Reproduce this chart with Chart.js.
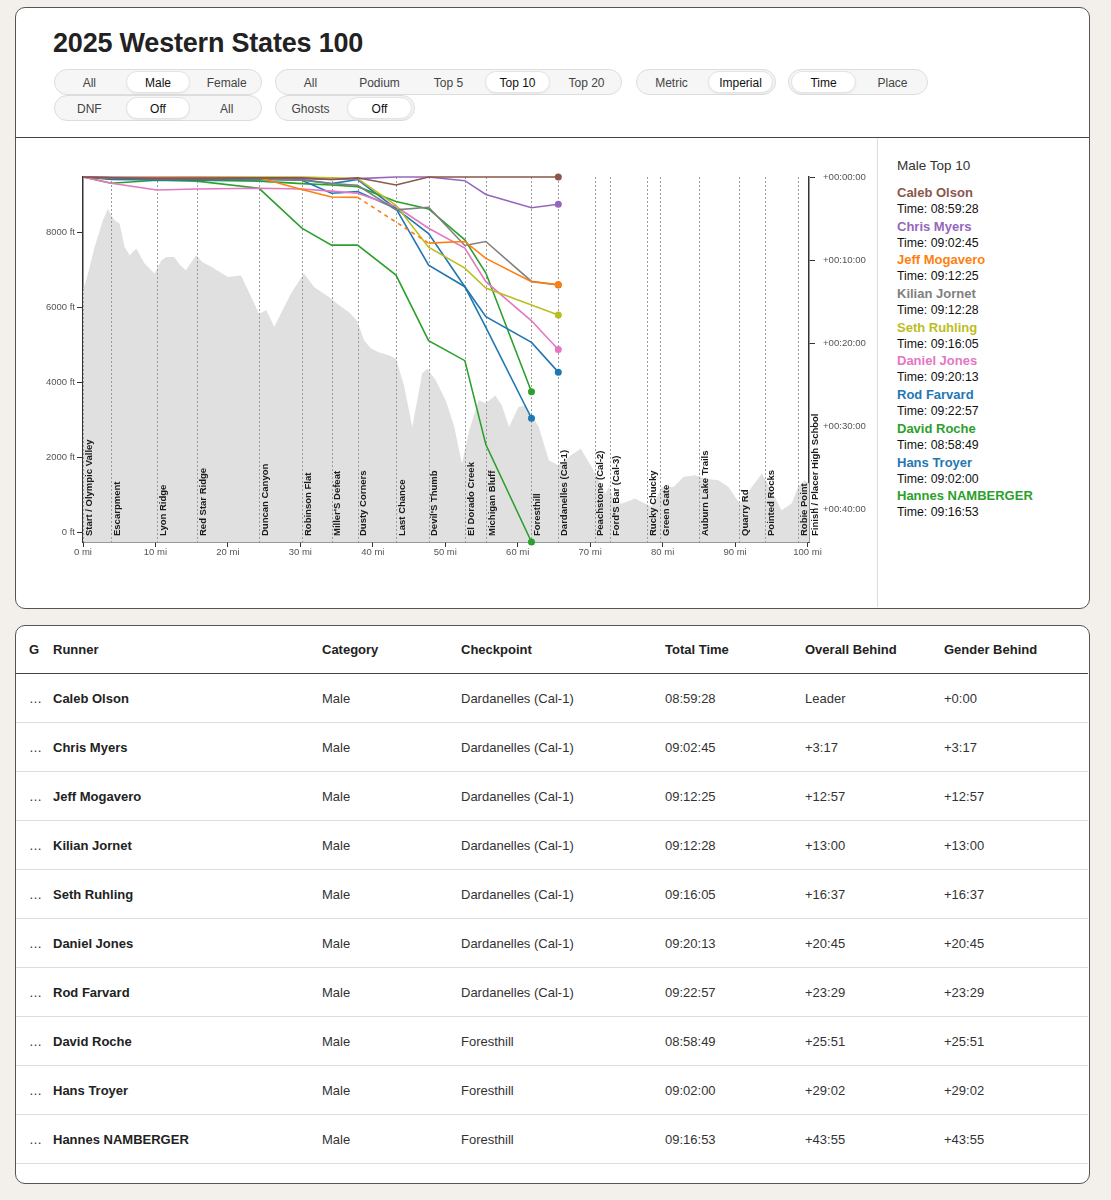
<!DOCTYPE html>
<html>
<head>
<meta charset="utf-8">
<script src="https://cdn.jsdelivr.net/npm/chart.js@4.4.1/dist/chart.umd.min.js"></script>
<style>
  body{margin:0;background:#f3f0eb;font-family:"Liberation Sans",Arial,sans-serif;color:#222;width:1111px;height:1200px;position:relative;overflow:hidden}
  .card{position:absolute;background:#fff;border:1px solid #555;border-radius:10px;box-sizing:border-box}
  h1{position:absolute;left:53px;top:28px;margin:0;font-size:27px;font-weight:bold;color:#222;letter-spacing:-0.2px}
  .grp{position:absolute;height:26px;border:1px solid #ddd;border-radius:14px;background:#f6f6f6;display:flex;box-sizing:border-box}
  .grp span{flex:1;text-align:center;font-size:12px;line-height:22px;color:#444;margin:1px 2px;border-radius:12px;border:1px solid transparent}
  .grp span.on{background:#fff;border-color:#e4e4e4;color:#111;box-shadow:0 1px 2px rgba(0,0,0,.06)}
  #hline{position:absolute;left:15px;top:137px;width:1074px;height:1px;background:#444}
  #vline{position:absolute;left:877px;top:138px;width:1px;height:469px;background:#ddd}
  #wrap{position:absolute;left:16px;top:138px;width:861px;height:470px}
  #legend{position:absolute;left:897px;top:158px;width:185px}
  #legend .ttl{font-size:13.5px;color:#333;margin-bottom:12px}
  #legend .nm{font-size:13px;font-weight:bold;line-height:16px}
  #legend .tm{font-size:12.3px;color:#111;line-height:16px;margin-bottom:1.7px}
  table{position:absolute;left:16px;top:626px;width:1072px;border-collapse:collapse;font-size:13px;table-layout:fixed}
  th{text-align:left;font-weight:bold;height:47px;border-bottom:1px solid #444;padding:0;color:#222}
  td{height:48px;border-bottom:1px solid #ddd;padding:0;color:#333}
  td.rn{font-weight:bold;color:#222}
  th:first-child,td:first-child{padding-left:13px}
</style>
</head>
<body>
<div class="card" style="left:15px;top:7px;width:1075px;height:602px"></div>
<div class="card" style="left:15px;top:625px;width:1075px;height:559px"></div>
<h1>2025 Western States 100</h1>
<div class="grp" style="left:54px;top:69px;width:208px"><span>All</span><span class="on">Male</span><span>Female</span></div>
<div class="grp" style="left:275px;top:69px;width:347px"><span>All</span><span>Podium</span><span>Top 5</span><span class="on">Top 10</span><span>Top 20</span></div>
<div class="grp" style="left:636px;top:69px;width:140px"><span>Metric</span><span class="on">Imperial</span></div>
<div class="grp" style="left:788px;top:69px;width:140px"><span class="on">Time</span><span>Place</span></div>
<div class="grp" style="left:54px;top:95px;width:208px"><span>DNF</span><span class="on">Off</span><span>All</span></div>
<div class="grp" style="left:275px;top:95px;width:140px"><span>Ghosts</span><span class="on">Off</span></div>
<div id="hline"></div>
<div id="vline"></div>
<div id="wrap"><canvas id="chart" width="861" height="470"></canvas></div>
<div id="legend"></div>
<table id="tbl"></table>

<script>
// checkpoints
const cpNames = ['Start / Olympic Valley','Escarpment','Lyon Ridge','Red Star Ridge','Duncan Canyon','Robinson Flat',"Miller'S Defeat",'Dusty Corners','Last Chance',"Devil'S Thumb",'El Dorado Creek','Michigan Bluff','Foresthill','Dardanelles (Cal-1)','Peachstone (Cal-2)',"Ford'S Bar (Cal-3)",'Rucky Chucky','Green Gate','Auburn Lake Trails','Quarry Rd','Pointed Rocks','Robie Point','Finish / Placer High School'];
const cpMiles = [0,3.9,10.2,15.7,24.3,30.2,34.3,37.9,43.2,47.7,52.7,55.6,61.9,65.6,70.6,72.8,77.8,79.7,85.0,90.5,94.1,98.7,100.2];

// elevation profile (ft)
const elevMiles = [0,0.7,1.6,2.75,3.44,3.9,4.37,5.06,5.74,6.43,7.35,8.5,9.88,10.8,11.5,12.6,13.3,14.2,15.6,16.5,17.7,20.0,21.8,23.2,24.3,25.3,26.4,28.7,30.5,31.9,32.6,34.0,35.4,36.7,37.8,38.8,39.7,40.8,42.2,43.2,44.3,45.45,46.8,47.5,48.7,50.05,51.2,52.3,53.3,54.6,55.6,56.9,57.8,58.8,60.1,61.1,62.9,64.3,65.6,67.3,68.7,70.2,71.2,72.1,72.6,73.5,74.4,76.2,77.1,78.5,79.9,81.5,82.9,84.5,85.9,87.7,89.1,90.0,90.7,92.3,93.7,95.0,96.4,97.8,98.7,99.6,100.2];
const elevFeet = [6450,6900,7610,8320,8630,8450,8320,8230,7610,7390,7570,7170,6900,7250,7340,7340,7150,6990,7390,7200,7080,6810,6850,6280,5830,5920,5480,6370,6900,6540,6450,6270,6050,5870,5650,5120,4910,4800,4720,4630,3920,2810,4230,4370,4050,3520,2850,1830,2720,3520,3440,3650,3390,2810,3340,3390,2810,1920,1790,2050,2230,1740,1390,1030,1210,770,770,900,810,680,1210,1210,1480,1520,1430,1390,1210,940,770,1210,1570,1120,590,770,1210,1390,1300];

// runners
const runners = ['Caleb Olson','Chris Myers','Jeff Mogavero','Kilian Jornet','Seth Ruhling','Daniel Jones','Rod Farvard','David Roche','Hans Troyer','Hannes NAMBERGER'];
const colors = ['#8c564b','#9467bd','#ff7f0e','#7f7f7f','#bcbd22','#e377c2','#1f77b4','#2ca02c','#1f77b4','#2ca02c'];
const lastCheckpoint = ['Dardanelles (Cal-1)','Dardanelles (Cal-1)','Dardanelles (Cal-1)','Dardanelles (Cal-1)','Dardanelles (Cal-1)','Dardanelles (Cal-1)','Dardanelles (Cal-1)','Foresthill','Foresthill','Foresthill'];
const totalTimes = ['08:59:28','09:02:45','09:12:25','09:12:28','09:16:05','09:20:13','09:22:57','08:58:49','09:02:00','09:16:53'];
const overallBehind = ['Leader','+3:17','+12:57','+13:00','+16:37','+20:45','+23:29','+25:51','+29:02','+43:55'];
const genderBehind = ['+0:00','+3:17','+12:57','+13:00','+16:37','+20:45','+23:29','+25:51','+29:02','+43:55'];

// minutes behind leader at each checkpoint
const gapCaleb  = [0,0.1,0.2,0.2,0.1,0.1,0.3,0.1,0.96,0,0,0,0,0];
const gapChris  = [0,0.05,0.1,0.1,0.1,0.2,0.3,0.2,0,0,0.44,2.1,3.7,3.28];
const gapJeff   = [0,0.1,0.05,0.05,0.1,1.5,2.4,2.45,null,7.96,7.76,9.8,12.6,12.95];
const gapKilian = [0,0.1,0.2,0.2,0.2,0.4,0.8,1.0,3.96,3.64,8.24,7.76,12.56,13.0];
const gapSeth   = [0,0.05,0.05,0,0,0,0.1,0.2,3.4,8.44,10.96,13.36,15.4,16.62];
const gapDaniel = [0,0.76,1.56,1.44,1.36,1.44,1.7,1.96,3.56,6.16,8.56,12.6,17.3,20.75];
const gapRod    = [0,0.3,0.36,0.36,0.3,0.4,1.96,1.76,3.8,10.6,13.2,16.8,19.9,23.48];
const gapDavid  = [0,0.1,0.3,0.4,0.5,0.8,0.96,1.16,2.96,3.84,7.56,11.56,25.85];
const gapHans   = [0,0.2,0.3,0.3,0.2,0.3,0.8,0.3,3.8,6.8,13.2,18.1,29.03];
const gapHannes = [0,0.76,0.4,0.5,1.36,6.16,8.2,8.2,11.8,19.7,22.1,32.2,43.92];
const gaps = [gapCaleb,gapChris,gapJeff,gapKilian,gapSeth,gapDaniel,gapRod,gapDavid,gapHans,gapHannes];

const xTicks = [0,10,20,30,40,50,60,70,80,90,100];
const elevTicks = [0,2000,4000,6000,8000];
const gapTicks = [0,10,20,30,40];

Chart.defaults.font.family = '"Liberation Sans", Arial, sans-serif';
Chart.defaults.color = '#555';

function pad(n){ return String(n).padStart(2,'0'); }

const checkpointPlugin = {
  id: 'checkpoints',
  afterDatasetDraw(chart, args){
    if(args.index !== 0) return;
    const {ctx, chartArea} = chart;
    const sx = chart.scales.x;
    ctx.save();
    ctx.strokeStyle = '#9a9a9a'; ctx.lineWidth = 1; ctx.setLineDash([2,2]);
    cpMiles.forEach(m => {
      const px = Math.round(sx.getPixelForValue(m)) + 0.5;
      ctx.beginPath(); ctx.moveTo(px, chartArea.top); ctx.lineTo(px, chartArea.bottom); ctx.stroke();
    });
    ctx.setLineDash([]);
    ctx.fillStyle = '#1a1a1a';
    ctx.font = 'bold 9.5px "Liberation Sans", Arial, sans-serif';
    ctx.textAlign = 'left'; ctx.textBaseline = 'top';
    cpNames.forEach((n,i) => {
      const px = sx.getPixelForValue(cpMiles[i]);
      ctx.save();
      ctx.translate(px + 1.5, chartArea.bottom - 6);
      ctx.rotate(-Math.PI/2);
      ctx.fillText(n, 0, 0);
      ctx.restore();
    });
    ctx.restore();
  }
};

const datasets = [{
  data: elevMiles.map((m,i)=>({x:m, y:elevFeet[i]})),
  yAxisID: 'y', fill: 'start', backgroundColor: '#e0e0e0',
  borderWidth: 0, pointRadius: 0, order: 1
}];
runners.forEach((r,i) => {
  datasets.push({
    label: r,
    data: gaps[i].map((g,j)=>({x:cpMiles[j], y:g})),
    yAxisID: 'y2', borderColor: colors[i], backgroundColor: colors[i],
    borderWidth: 1.6, spanGaps: true, order: 0, clip: 6,
    pointRadius: ctx => ctx.dataIndex === gaps[i].length - 1 ? 3.5 : 0,
    pointBorderWidth: 0,
    segment: { borderDash: ctx => (ctx.p0.skip || ctx.p1.skip) ? [4,4] : undefined }
  });
});

const axisGrid = {drawOnChartArea:false, drawTicks:true, tickLength:6, color:'#333'};
new Chart(document.getElementById('chart'), {
  type: 'line',
  data: { datasets },
  options: {
    responsive: false, animation: false,
    layout: { padding: {top:39, left:0, right:0, bottom:0} },
    plugins: { legend:{display:false}, tooltip:{enabled:false} },
    scales: {
      x: {
        type: 'linear', min: 0, max: 100.2,
        afterBuildTicks: s => { s.ticks = xTicks.map(v=>({value:v})); },
        afterFit: s => { s.height = 66; },
        ticks: { callback: v => v + ' mi', font:{size:9.5}, color:'#555', padding:0, maxRotation:0 },
        grid: {...axisGrid, tickLength:5}, border: {color:'#333', width:1.5}
      },
      y: {
        position: 'left', min: -258, max: 9475,
        afterBuildTicks: s => { s.ticks = elevTicks.map(v=>({value:v})); },
        afterFit: s => { s.width = 67; },
        ticks: { callback: v => v + ' ft', font:{size:9.5}, color:'#555', padding:2 },
        grid: axisGrid, border: {color:'#333', width:1.5}
      },
      y2: {
        position: 'right', min: 0, max: 43.92, reverse: true,
        afterBuildTicks: s => { s.ticks = gapTicks.map(v=>({value:v})); },
        afterFit: s => { s.width = 68; },
        ticks: { callback: v => '+00:' + pad(v) + ':00', font:{size:9.6}, color:'#555', padding:8 },
        grid: axisGrid, border: {color:'#333', width:1.5}
      }
    }
  },
  plugins: [checkpointPlugin]
});

// legend panel
let lg = '<div class="ttl">Male Top 10</div>';
runners.forEach((r,i) => {
  lg += `<div class="nm" style="color:${colors[i]}">${r}</div><div class="tm">Time: ${totalTimes[i]}</div>`;
});
document.getElementById('legend').innerHTML = lg;

// results table
const colW = [37,269,139,204,140,139,144];
let html = '<colgroup>' + colW.map(w=>`<col style="width:${w}px">`).join('') + '</colgroup>';
html += '<tr>' + ['G','Runner','Category','Checkpoint','Total Time','Overall Behind','Gender Behind'].map(h=>`<th>${h}</th>`).join('') + '</tr>';
runners.forEach((r,i) => {
  html += `<tr><td>…</td><td class="rn">${r}</td><td>Male</td><td>${lastCheckpoint[i]}</td><td>${totalTimes[i]}</td><td>${overallBehind[i]}</td><td>${genderBehind[i]}</td></tr>`;
});
document.getElementById('tbl').innerHTML = html;
</script>
</body>
</html>
